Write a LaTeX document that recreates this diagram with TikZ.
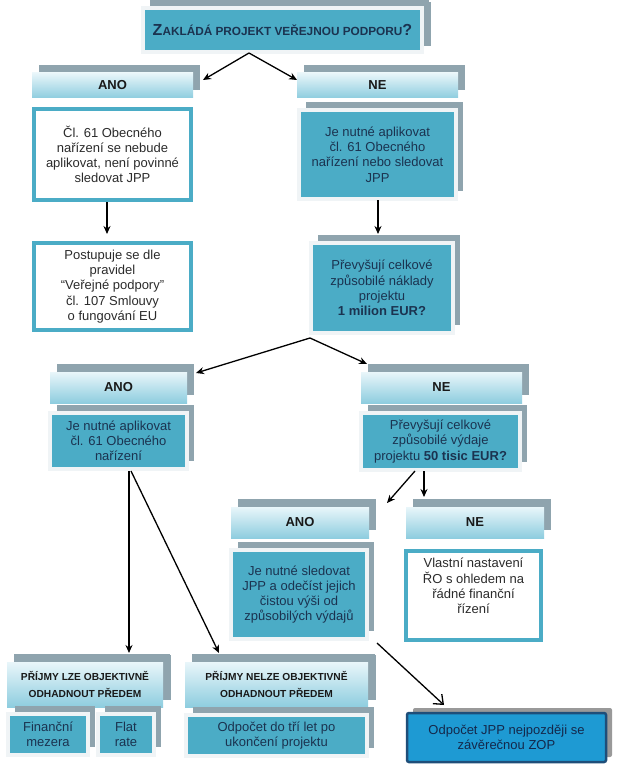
\documentclass[tikz,border=0pt]{standalone}
\usepackage{fontspec}
\setmainfont{Liberation Sans}
\usetikzlibrary{shadows,arrows.meta,calc}
\definecolor{tealc}{HTML}{4BACC6}
\definecolor{framec}{HTML}{F0F4F6}
\definecolor{shadowc}{HTML}{8FA4AE}
\definecolor{headtop}{HTML}{E9F6FA}
\definecolor{headbot}{HTML}{8ECDDF}
\definecolor{navytext}{HTML}{1B3350}
\definecolor{graytext}{HTML}{2B2B2B}
\definecolor{finfill}{HTML}{1E9AD3}
\definecolor{finborder}{HTML}{1F4E79}
\definecolor{fintext}{HTML}{14284B}
\tikzset{
  bodyfont/.style={font=\fontsize{13}{15.2}\selectfont},
  tealbox/.style={bodyfont, fill=tealc, draw=framec, line width=4pt, text=navytext,
    align=center, inner sep=0pt,
    general shadow={fill=shadowc, shadow xshift=7pt, shadow yshift=8pt}},
  whitebox/.style={bodyfont, fill=white, draw=tealc, line width=4pt, text=graytext,
    align=center, inner sep=0pt},
  headbox/.style={font=\fontsize{13}{15}\selectfont\bfseries, top color=headtop,
    bottom color=headbot, draw=none, text=black!90, align=center, inner sep=0pt,
    general shadow={fill=shadowc, shadow xshift=7pt, shadow yshift=8pt}},
  smallhead/.style={headbox, font=\fontsize{10.2}{16.5}\selectfont\bfseries,
    general shadow={fill=shadowc, shadow xshift=8pt, shadow yshift=7pt}},
  finbox/.style={bodyfont, fill=finfill, draw=finborder, line width=2.5pt,
    rounded corners=2pt, text=fintext, align=center, inner sep=0pt,
    general shadow={fill=black!40, shadow xshift=6pt, shadow yshift=5pt}},
  arr/.style={draw=black, line width=1.3pt, -{Stealth[length=8pt,width=7pt]}},
  barb/.style={draw=black, line width=1.3pt, -{Straight Barb[length=8pt,width=13pt,line width=1.3pt]}},
}
\begin{document}
\begin{tikzpicture}[x=1pt,y=-1pt]
\useasboundingbox (0,0) rectangle (619,773);
\fill[white] (0,0) rectangle (619,773);

% top question
\node[tealbox, minimum width=279pt, minimum height=44pt,
  general shadow={fill=shadowc, shadow xshift=9pt, shadow yshift=6pt},
  font=\bfseries] (top) at (282.5,30)
  {{\fontsize{16}{18}\selectfont Z}{\fontsize{11.8}{14}\selectfont AKLÁDÁ PROJEKT VEŘEJNOU PODPORU}{\fontsize{16}{18}\selectfont ?}};

% first level
\node[headbox, minimum width=161pt, minimum height=25pt] (ano1) at (112.5,85.5) {ANO};
\node[headbox, minimum width=161pt, minimum height=25pt] (ne1) at (377.5,85.5) {NE};

\node[whitebox, minimum width=157pt, minimum height=91pt] (a1) at (112.5,154.5)
  {Čl. 61 Obecného\\nařízení se nebude\\aplikovat, není povinné\\sledovat JPP};
\node[tealbox, minimum width=157pt, minimum height=89pt] (b1) at (377.5,154.5)
  {Je nutné aplikovat\\čl. 61 Obecného\\nařízení nebo sledovat\\JPP};

\node[whitebox, minimum width=157pt, minimum height=87pt] (a2) at (112.5,286.5)
  {Postupuje se dle\\pravidel\\“Veřejné podpory”\\čl. 107 Smlouvy\\o fungování EU};
\node[tealbox, minimum width=142pt, minimum height=90pt] (b2) at (382,288)
  {Převyšují celkové\\způsobilé náklady\\projektu\\\textbf{1 milion EUR?}};

% second level
\node[headbox, minimum width=137pt, minimum height=31pt] (ano2) at (118.5,387.5) {ANO};
\node[headbox, minimum width=161pt, minimum height=31pt] (ne2) at (441.5,387.5) {NE};

\node[tealbox, minimum width=137pt, minimum height=56pt] (c1) at (118.5,441)
  {Je nutné aplikovat\\čl. 61 Obecného\\nařízení};
\node[tealbox, minimum width=159pt, minimum height=57pt] (d1) at (440.5,441.5)
  {Převyšují celkové\\způsobilé výdaje\\projektu \textbf{50 tisic EUR?}};

% third level
\node[headbox, minimum width=138pt, minimum height=31pt] (ano3) at (300,522.5) {ANO};
\node[headbox, minimum width=138pt, minimum height=31pt] (ne3) at (475,522.5) {NE};

\node[tealbox, minimum width=136pt, minimum height=89pt] (e1) at (299,594.5)
  {Je nutné sledovat\\JPP a odečíst jejich\\čistou výši od\\způsobilých výdajů};
\node[whitebox, minimum width=135pt, minimum height=89pt] (f1) at (473.5,595.5) {};
\node[bodyfont, text=graytext, align=center, inner sep=0pt] (f1t) at (473.5,586)
  {Vlastní nastavení\\ŘO s ohledem na\\řádné finanční\\řízení};

% bottom level
\node[smallhead, minimum width=156pt, minimum height=45pt] (h4) at (85,684.5)
  {PŘÍJMY LZE OBJEKTIVNĚ\\ODHADNOUT PŘEDEM};
\node[smallhead, minimum width=183pt, minimum height=45pt] (h5) at (276.5,684.5)
  {PŘÍJMY NELZE OBJEKTIVNĚ\\ODHADNOUT PŘEDEM};

\node[tealbox, minimum width=80pt, minimum height=41pt] (g1) at (48,734.5) {Finanční\\mezera};
\node[tealbox, minimum width=56pt, minimum height=41pt] (g2) at (126,734.5) {Flat\\rate};
\node[tealbox, minimum width=181pt, minimum height=41pt] (g3) at (276.5,735.5)
  {Odpočet do tří let po\\ukončení projektu};

\node[finbox, minimum width=199pt, minimum height=49pt] (fin) at (506.5,737.5)
  {Odpočet JPP nejpozději se\\závěrečnou ZOP};

% connector end points
\coordinate (t0) at (249,53);
\coordinate (ano1in) at (203,80);
\coordinate (ne1in) at (297,80);
\coordinate (a1out) at (107,202);
\coordinate (a2in) at (107,234);
\coordinate (b1out) at (378,200);
\coordinate (b2in) at (378,234);
\coordinate (b2out) at (310,338);
\coordinate (ano2in) at (196,373);
\coordinate (ne2in) at (367,364);
\coordinate (c1outA) at (129,471);
\coordinate (c1outB) at (131,471);
\coordinate (h4in) at (129,653);
\coordinate (h5in) at (219,653);
\coordinate (d1outA) at (415,471);
\coordinate (d1outB) at (424,471);
\coordinate (ano3in) at (387,503);
\coordinate (ne3in) at (424,497);
\coordinate (e1out) at (377,643);
\coordinate (finin) at (444,705);

\draw[arr] (t0) -- (ano1in);
\draw[arr] (t0) -- (ne1in);
\draw[arr] (a1out) -- (a2in);
\draw[arr] (b1out) -- (b2in);
\draw[arr] (b2out) -- (ano2in);
\draw[arr] (b2out) -- (ne2in);
\draw[arr] (c1outA) -- (h4in);
\draw[arr] (c1outB) -- (h5in);
\draw[arr] (d1outA) -- (ano3in);
\draw[arr] (d1outB) -- (ne3in);
\draw[barb] (e1out) -- (finin);
\end{tikzpicture}
\end{document}
